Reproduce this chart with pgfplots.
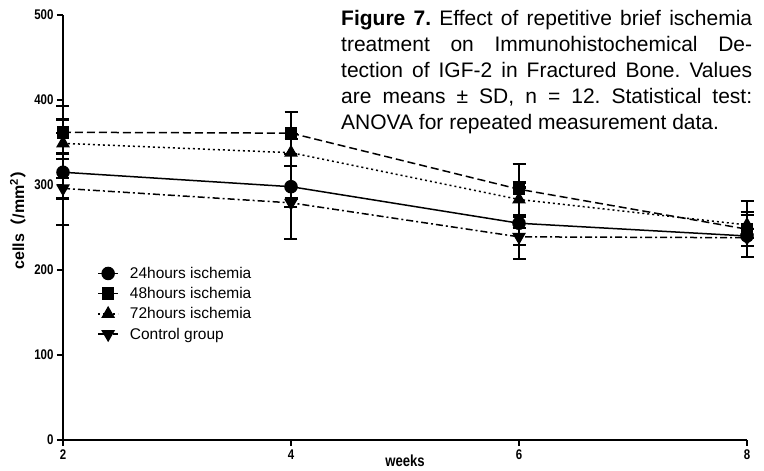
\documentclass[border=0pt]{standalone}
\usepackage{fontspec}
\setmainfont{Liberation Sans}
\newfontfamily\narrow[FakeStretch=0.82]{Liberation Sans}
\newfontfamily\cjk{Noto Sans CJK SC}
\usepackage{pgfplots}
\usepackage{pgfplotstable}
\pgfplotsset{compat=1.18}
\frenchspacing

\pgfplotstableread{
x y e
2 315 62
4 298 62
6 255 42
8 240 25
}\tA
\pgfplotstableread{
x y e
2 362 31
4 361 25
6 295 30
8 248 33
}\tB
\pgfplotstableread{
x y e
2 349 12
4 338 16
6 283 20
8 253 15
}\tC
\pgfplotstableread{
x y e
2 296 12
4 279 5
6 239 10
8 238 10
}\tD

\begin{document}
\begin{tikzpicture}
\useasboundingbox (-63pt,-31pt) rectangle (701pt,440pt);
\begin{axis}[
  at={(0pt,0pt)}, anchor=south west,
  scale only axis, width=684pt, height=425pt,
  xmin=2, xmax=8, ymin=0, ymax=500,
  xtick={2,4,6,8}, ytick={0,100,...,500},
  axis x line=bottom, axis y line=left,
  axis line style={line width=2.2pt, -},
  x axis line style={-}, y axis line style={-},
  every tick/.style={black, line width=1.6pt},
  major tick length=6pt, tick align=outside,
  tick label style={font=\narrow\bfseries\fontsize{14}{16}\selectfont},
  /pgf/number format/assume math mode=true,
  clip=false,
  legend style={at={(rel axis cs:0.050,0.412)}, anchor=north west, draw=none, fill=none,
    font=\fontsize{15.5}{18}\selectfont, row sep=3.5pt, inner sep=0pt,
    cells={anchor=west}, nodes={inner sep=2pt},
    /tikz/every odd column/.append style={column sep=9pt}},
  legend image code/.code={\draw[mark repeat=2,mark phase=2,#1] plot coordinates {(0pt,0pt) (10pt,0pt) (20pt,0pt)};},
  err/.style={error bars/.cd, y dir=both, y explicit,
    error bar style={line width=2.2pt, solid},
    error mark options={rotate=90, mark size=6.5pt, line width=2.2pt, solid}},
]
\addplot[black, line width=1.5pt, mark=*, mark size=6pt, mark options={solid, fill=black}, err]
  table[x=x, y=y, y error=e] {\tA};
\addlegendentry{24hours ischemia}
\addplot[black, line width=1.5pt, dash pattern=on 8pt off 4pt, mark=square*, mark size=5.5pt, mark options={solid, fill=black}, err]
  table[x=x, y=y, y error=e] {\tB};
\addlegendentry{48hours ischemia}
\addplot[black, line width=1.5pt, dash pattern=on 2pt off 3pt, mark=triangle*, mark size=6.5pt, mark options={solid, fill=black}, err]
  table[x=x, y=y, y error=e] {\tC};
\addlegendentry{72hours ischemia}
\addplot[black, line width=1.5pt, dash pattern=on 7pt off 3pt on 2pt off 3pt, mark=triangle*, mark size=6.5pt, mark options={solid, fill=black, rotate=180}, err]
  table[x=x, y=y, y error=e] {\tD};
\addlegendentry{Control group}
\node[rotate=90, font=\bfseries\fontsize{16}{18}\selectfont] at (rel axis cs:-0.0658,0.527) {cells{\cjk （}/mm\textsuperscript{2}{\cjk ）}};
\node[anchor=base, font=\narrow\bfseries\fontsize{16}{18}\selectfont] at (rel axis cs:0.5,-0.0635) {weeks};
\end{axis}
\node[anchor=north west, inner sep=0pt, align=left, font=\fontsize{21}{26}\selectfont\frenchspacing] at (278pt,430.4pt) {%
\makebox[411pt][s]{\textbf{Figure 7.} Effect of repetitive brief ischemia}\\
\makebox[411pt][s]{treatment on Immunohistochemical De-}\\
\makebox[411pt][s]{tection of IGF-2 in Fractured Bone. Values}\\
\makebox[411pt][s]{are means ± SD, n = 12. Statistical test:}\\
ANOVA for repeated measurement data.};
\end{tikzpicture}
\end{document}
